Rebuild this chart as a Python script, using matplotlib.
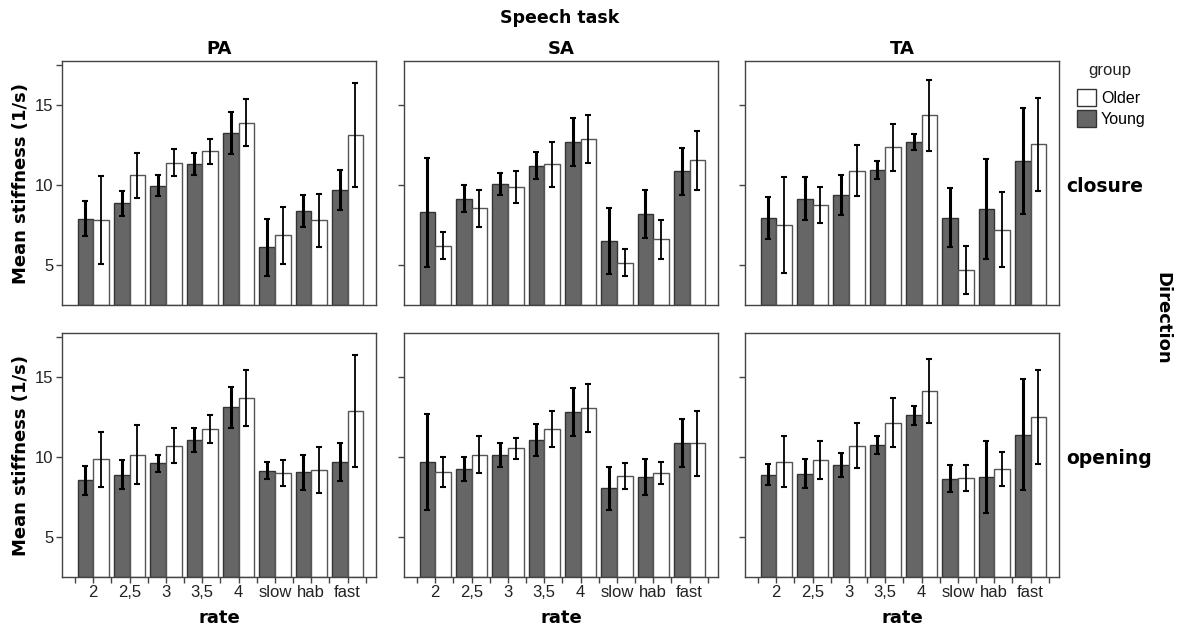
import matplotlib
matplotlib.use("Agg")
import matplotlib.pyplot as plt
import numpy as np
from matplotlib.patches import Patch

rates = ["2", "2,5", "3", "3,5", "4", "slow", "hab", "fast"]
tasks = ["PA", "SA", "TA"]
directions = ["closure", "opening"]

# Young (dark) / Older (white): means and error half-widths
young_closure_PA = [7.9, 8.85, 9.95, 11.3, 13.25, 6.1, 8.4, 9.7]
young_closure_PA_err = [1.1, 0.8, 0.65, 0.7, 1.3, 1.8, 1.0, 1.25]
older_closure_PA = [7.8, 10.6, 11.4, 12.1, 13.9, 6.85, 7.8, 13.1]
older_closure_PA_err = [2.75, 1.4, 0.85, 0.8, 1.45, 1.8, 1.65, 3.25]

young_closure_SA = [8.3, 9.15, 10.05, 11.2, 12.7, 6.5, 8.2, 10.85]
young_closure_SA_err = [3.4, 0.85, 0.7, 0.85, 1.5, 2.05, 1.5, 1.45]
older_closure_SA = [6.2, 8.55, 9.9, 11.3, 12.85, 5.15, 6.6, 11.55]
older_closure_SA_err = [0.85, 1.15, 1.0, 1.4, 1.5, 0.85, 1.2, 1.85]

young_closure_TA = [7.95, 9.15, 9.35, 10.95, 12.7, 7.95, 8.5, 11.5]
young_closure_TA_err = [1.3, 1.35, 1.25, 0.55, 0.5, 1.85, 3.15, 3.3]
older_closure_TA = [7.5, 8.75, 10.9, 12.35, 14.35, 4.7, 7.2, 12.55]
older_closure_TA_err = [3.0, 1.15, 1.6, 1.45, 2.2, 1.5, 2.35, 2.9]

young_opening_PA = [8.55, 8.9, 9.6, 11.05, 13.1, 9.15, 9.05, 9.7]
young_opening_PA_err = [0.9, 0.9, 0.55, 0.75, 1.3, 0.55, 1.1, 1.2]
older_opening_PA = [9.85, 10.15, 10.7, 11.75, 13.7, 9.0, 9.2, 12.9]
older_opening_PA_err = [1.7, 1.85, 1.1, 0.9, 1.75, 0.8, 1.45, 3.5]

young_opening_SA = [9.7, 9.25, 10.1, 11.05, 12.8, 8.05, 8.75, 10.85]
young_opening_SA_err = [3.0, 0.75, 0.75, 1.0, 1.5, 1.35, 1.1, 1.5]
older_opening_SA = [9.05, 10.15, 10.55, 11.75, 13.05, 8.8, 9.0, 10.85]
older_opening_SA_err = [0.95, 1.15, 0.65, 1.15, 1.5, 0.8, 0.7, 2.05]

young_opening_TA = [8.9, 8.95, 9.5, 10.75, 12.6, 8.65, 8.75, 11.4]
young_opening_TA_err = [0.65, 0.9, 0.75, 0.55, 0.6, 0.85, 2.25, 3.45]
older_opening_TA = [9.7, 9.8, 10.7, 12.15, 14.15, 8.7, 9.25, 12.5]
older_opening_TA_err = [1.6, 1.2, 1.4, 1.55, 2.0, 0.8, 1.05, 2.95]

data = {
    ("closure", "PA"): (young_closure_PA, young_closure_PA_err, older_closure_PA, older_closure_PA_err),
    ("closure", "SA"): (young_closure_SA, young_closure_SA_err, older_closure_SA, older_closure_SA_err),
    ("closure", "TA"): (young_closure_TA, young_closure_TA_err, older_closure_TA, older_closure_TA_err),
    ("opening", "PA"): (young_opening_PA, young_opening_PA_err, older_opening_PA, older_opening_PA_err),
    ("opening", "SA"): (young_opening_SA, young_opening_SA_err, older_opening_SA, older_opening_SA_err),
    ("opening", "TA"): (young_opening_TA, young_opening_TA_err, older_opening_TA, older_opening_TA_err),
}

DARK = "#666666"
EDGE = "#333333"
W, H = 1177, 630
fig = plt.figure(figsize=(W / 100, H / 100), dpi=100)
fig.patch.set_facecolor("white")

lefts = [62, 404, 745]
tops = [61, 333]
pw, ph = 314, 244
bw = 0.43
x = np.arange(len(rates))

tickfont = dict(family="Liberation Sans", size=12, color="#222222")
boldfont = dict(family="DejaVu Sans", weight="bold", color="black")

for r, d in enumerate(directions):
    for c, t in enumerate(tasks):
        ax = fig.add_axes([lefts[c] / W, 1 - (tops[r] + ph) / H, pw / W, ph / H])
        y_m, y_e, o_m, o_e = data[(d, t)]
        ax.bar(x - bw / 2, np.array(y_m) - 2.5, bottom=2.5, width=bw, color=DARK,
               edgecolor=EDGE, linewidth=1.0, zorder=2)
        ax.bar(x + bw / 2, np.array(o_m) - 2.5, bottom=2.5, width=bw, color="white",
               edgecolor="#555555", linewidth=1.0, zorder=2)
        ax.errorbar(x - bw / 2, y_m, yerr=y_e, fmt="none", ecolor="black",
                    elinewidth=2.2, capsize=2, capthick=1.5, zorder=3)
        ax.errorbar(x + bw / 2, o_m, yerr=o_e, fmt="none", ecolor="black",
                    elinewidth=1.3, capsize=2, capthick=1.5, zorder=3)
        ax.set_xlim(-0.86, 7.78)
        ax.set_ylim(2.5, 17.75)
        for s in ax.spines.values():
            s.set_color("#444444")
            s.set_linewidth(1.0)
        if c == 0:
            ax.set_yticks([5, 10, 15, 17.5])
            ax.set_yticklabels(["5", "10", "15", ""], fontdict=tickfont)
            ax.set_ylabel("Mean stiffness (1/s)", fontsize=13, labelpad=4, **boldfont)
        else:
            ax.set_yticks([5, 10, 15])
            ax.set_yticklabels([])
        ax.tick_params(axis="y", length=4, width=1, color="#444444", pad=2)
        if r == 1:
            ax.set_xticks(x)
            ax.set_xticklabels(rates, fontdict=tickfont)
            ax.set_xticks(np.arange(-0.5, 8.0, 1.0), minor=True)
            ax.tick_params(axis="x", which="both", length=4, width=1, color="#444444", pad=2)
            ax.set_xlabel("rate", fontsize=13, labelpad=6, **boldfont)
        else:
            ax.set_xticks([])
        if r == 0:
            ax.set_title(t, fontsize=13, pad=5, **boldfont)

fig.text(560 / W, 1 - 18 / H, "Speech task", ha="center", va="center", fontsize=12.5, **boldfont)
fig.text(1066 / W, 1 - 186 / H, "closure", ha="left", va="center", fontsize=13.5, **boldfont)
fig.text(1066 / W, 1 - 458 / H, "opening", ha="left", va="center", fontsize=13.5, **boldfont)
fig.text(1162 / W, 1 - 318 / H, "Direction", ha="center", va="center", rotation=-90,
         fontsize=13, **boldfont)

fig.text(1110 / W, 1 - 71 / H, "group", ha="center", va="center",
         family="Liberation Sans", fontsize=12, color="#222222")
handles = [Patch(facecolor="white", edgecolor="#333333", label="Older"),
           Patch(facecolor=DARK, edgecolor="#333333", label="Young")]
leg = fig.legend(handles=handles, loc="upper left",
                 bbox_to_anchor=(1077 / W, 1 - 89 / H), frameon=False,
                 prop=dict(family="Liberation Sans", size=11.5),
                 handlelength=1.2, handleheight=1.3, handletextpad=0.3,
                 labelspacing=0.2, borderpad=0.0, borderaxespad=0)

fig.savefig("out.png", dpi=100)
